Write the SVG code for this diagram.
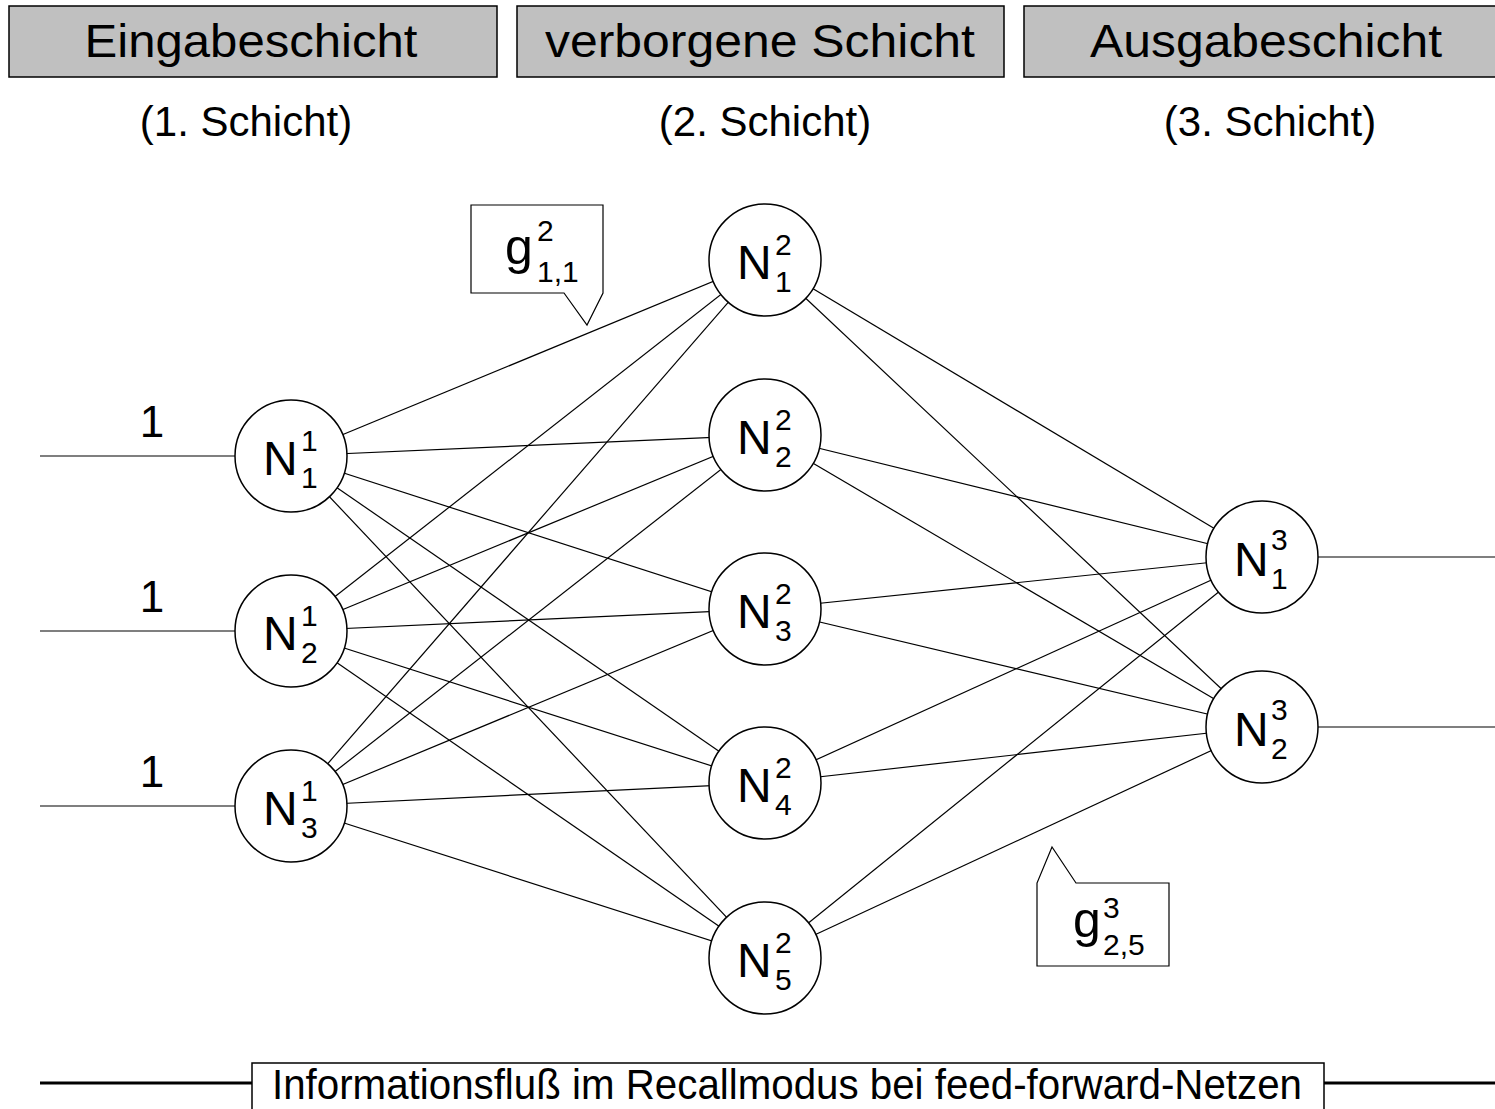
<svg xmlns="http://www.w3.org/2000/svg" width="1495" height="1109" viewBox="0 0 1495 1109">
<style>
text{font-family:"Liberation Sans",Arial,sans-serif;fill:#000}
.hdr{fill:#c0c0c0;stroke:#000;stroke-width:1.5}
.ht{font-size:46px;text-anchor:middle}
.st{font-size:42px;text-anchor:middle}
.nd{fill:#fff;stroke:#000;stroke-width:1.5}
.N{font-size:48px}
.one{font-size:44px;text-anchor:middle}
.sc{font-size:30px}
.edge{stroke:#000;stroke-width:1.2;fill:none}
.co{fill:#fff;stroke:#000;stroke-width:1.2}
.g{font-size:50px}
</style>
<rect width="1495" height="1109" fill="#fff"/>
<g id="header-1"><rect class="hdr" x="9" y="6" width="488" height="71"/><text class="ht" x="251" y="57" textLength="333" lengthAdjust="spacingAndGlyphs">Eingabeschicht</text><text class="st" x="246" y="136">(1. Schicht)</text></g>
<g id="header-2"><rect class="hdr" x="517" y="6" width="487" height="71"/><text class="ht" x="760" y="57" textLength="430" lengthAdjust="spacingAndGlyphs">verborgene Schicht</text><text class="st" x="765" y="136">(2. Schicht)</text></g>
<g id="header-3"><rect class="hdr" x="1024" y="6" width="480" height="71"/><text class="ht" x="1266" y="57" textLength="352" lengthAdjust="spacingAndGlyphs">Ausgabeschicht</text><text class="st" x="1270" y="136">(3. Schicht)</text></g>
<g id="connectors">
<line class="edge" x1="40" y1="456" x2="291" y2="456"/>
<line class="edge" x1="40" y1="631" x2="291" y2="631"/>
<line class="edge" x1="40" y1="806" x2="291" y2="806"/>
<line class="edge" x1="1262" y1="557" x2="1495" y2="557"/>
<line class="edge" x1="1262" y1="727" x2="1495" y2="727"/>
<line class="edge" x1="291" y1="456" x2="765" y2="260"/>
<line class="edge" x1="291" y1="456" x2="765" y2="435"/>
<line class="edge" x1="291" y1="456" x2="765" y2="609"/>
<line class="edge" x1="291" y1="456" x2="765" y2="783"/>
<line class="edge" x1="291" y1="456" x2="765" y2="958"/>
<line class="edge" x1="291" y1="631" x2="765" y2="260"/>
<line class="edge" x1="291" y1="631" x2="765" y2="435"/>
<line class="edge" x1="291" y1="631" x2="765" y2="609"/>
<line class="edge" x1="291" y1="631" x2="765" y2="783"/>
<line class="edge" x1="291" y1="631" x2="765" y2="958"/>
<line class="edge" x1="291" y1="806" x2="765" y2="260"/>
<line class="edge" x1="291" y1="806" x2="765" y2="435"/>
<line class="edge" x1="291" y1="806" x2="765" y2="609"/>
<line class="edge" x1="291" y1="806" x2="765" y2="783"/>
<line class="edge" x1="291" y1="806" x2="765" y2="958"/>
<line class="edge" x1="765" y1="260" x2="1262" y2="557"/>
<line class="edge" x1="765" y1="260" x2="1262" y2="727"/>
<line class="edge" x1="765" y1="435" x2="1262" y2="557"/>
<line class="edge" x1="765" y1="435" x2="1262" y2="727"/>
<line class="edge" x1="765" y1="609" x2="1262" y2="557"/>
<line class="edge" x1="765" y1="609" x2="1262" y2="727"/>
<line class="edge" x1="765" y1="783" x2="1262" y2="557"/>
<line class="edge" x1="765" y1="783" x2="1262" y2="727"/>
<line class="edge" x1="765" y1="958" x2="1262" y2="557"/>
<line class="edge" x1="765" y1="958" x2="1262" y2="727"/>
</g>
<g id="input-labels">
<text class="one" x="152" y="437">1</text>
<text class="one" x="152" y="612">1</text>
<text class="one" x="152" y="787">1</text>
</g>
<g id="n1-1"><circle class="nd" cx="291" cy="456" r="56"/><text class="N" x="263" y="475">N</text><text class="sc" x="301" y="451">1</text><text class="sc" x="301" y="488">1</text></g>
<g id="n1-2"><circle class="nd" cx="291" cy="631" r="56"/><text class="N" x="263" y="650">N</text><text class="sc" x="301" y="626">1</text><text class="sc" x="301" y="663">2</text></g>
<g id="n1-3"><circle class="nd" cx="291" cy="806" r="56"/><text class="N" x="263" y="825">N</text><text class="sc" x="301" y="801">1</text><text class="sc" x="301" y="838">3</text></g>
<g id="n2-1"><circle class="nd" cx="765" cy="260" r="56"/><text class="N" x="737" y="279">N</text><text class="sc" x="775" y="255">2</text><text class="sc" x="775" y="292">1</text></g>
<g id="n2-2"><circle class="nd" cx="765" cy="435" r="56"/><text class="N" x="737" y="454">N</text><text class="sc" x="775" y="430">2</text><text class="sc" x="775" y="467">2</text></g>
<g id="n2-3"><circle class="nd" cx="765" cy="609" r="56"/><text class="N" x="737" y="628">N</text><text class="sc" x="775" y="604">2</text><text class="sc" x="775" y="641">3</text></g>
<g id="n2-4"><circle class="nd" cx="765" cy="783" r="56"/><text class="N" x="737" y="802">N</text><text class="sc" x="775" y="778">2</text><text class="sc" x="775" y="815">4</text></g>
<g id="n2-5"><circle class="nd" cx="765" cy="958" r="56"/><text class="N" x="737" y="977">N</text><text class="sc" x="775" y="953">2</text><text class="sc" x="775" y="990">5</text></g>
<g id="n3-1"><circle class="nd" cx="1262" cy="557" r="56"/><text class="N" x="1234" y="576">N</text><text class="sc" x="1271" y="550">3</text><text class="sc" x="1271" y="589">1</text></g>
<g id="n3-2"><circle class="nd" cx="1262" cy="727" r="56"/><text class="N" x="1234" y="746">N</text><text class="sc" x="1271" y="720">3</text><text class="sc" x="1271" y="759">2</text></g>
<g id="callout-g211"><polygon class="co" points="471,205 603,205 603,293 587,325 564,293 471,293"/><text class="g" x="505" y="264">g</text><text class="sc" x="537" y="241">2</text><text class="sc" x="537" y="282">1,1</text></g>
<g id="callout-g325"><polygon class="co" points="1037,966 1037,883 1052,847 1076,883 1169,883 1169,966"/><text class="g" x="1073" y="937">g</text><text class="sc" x="1103" y="918">3</text><text class="sc" x="1103" y="955">2,5</text></g>
<g id="footer">
<line x1="40" y1="1083" x2="252" y2="1083" stroke="#000" stroke-width="3"/>
<line x1="1324" y1="1083" x2="1495" y2="1083" stroke="#000" stroke-width="3"/>
<path d="M252,1109 V1063 H1324 V1109" fill="#fff" stroke="#000" stroke-width="1.5"/>
<text x="272" y="1099" font-size="42" textLength="1030" lengthAdjust="spacingAndGlyphs">Informationsfluß im Recallmodus bei feed-forward-Netzen</text>
</g>
</svg>
